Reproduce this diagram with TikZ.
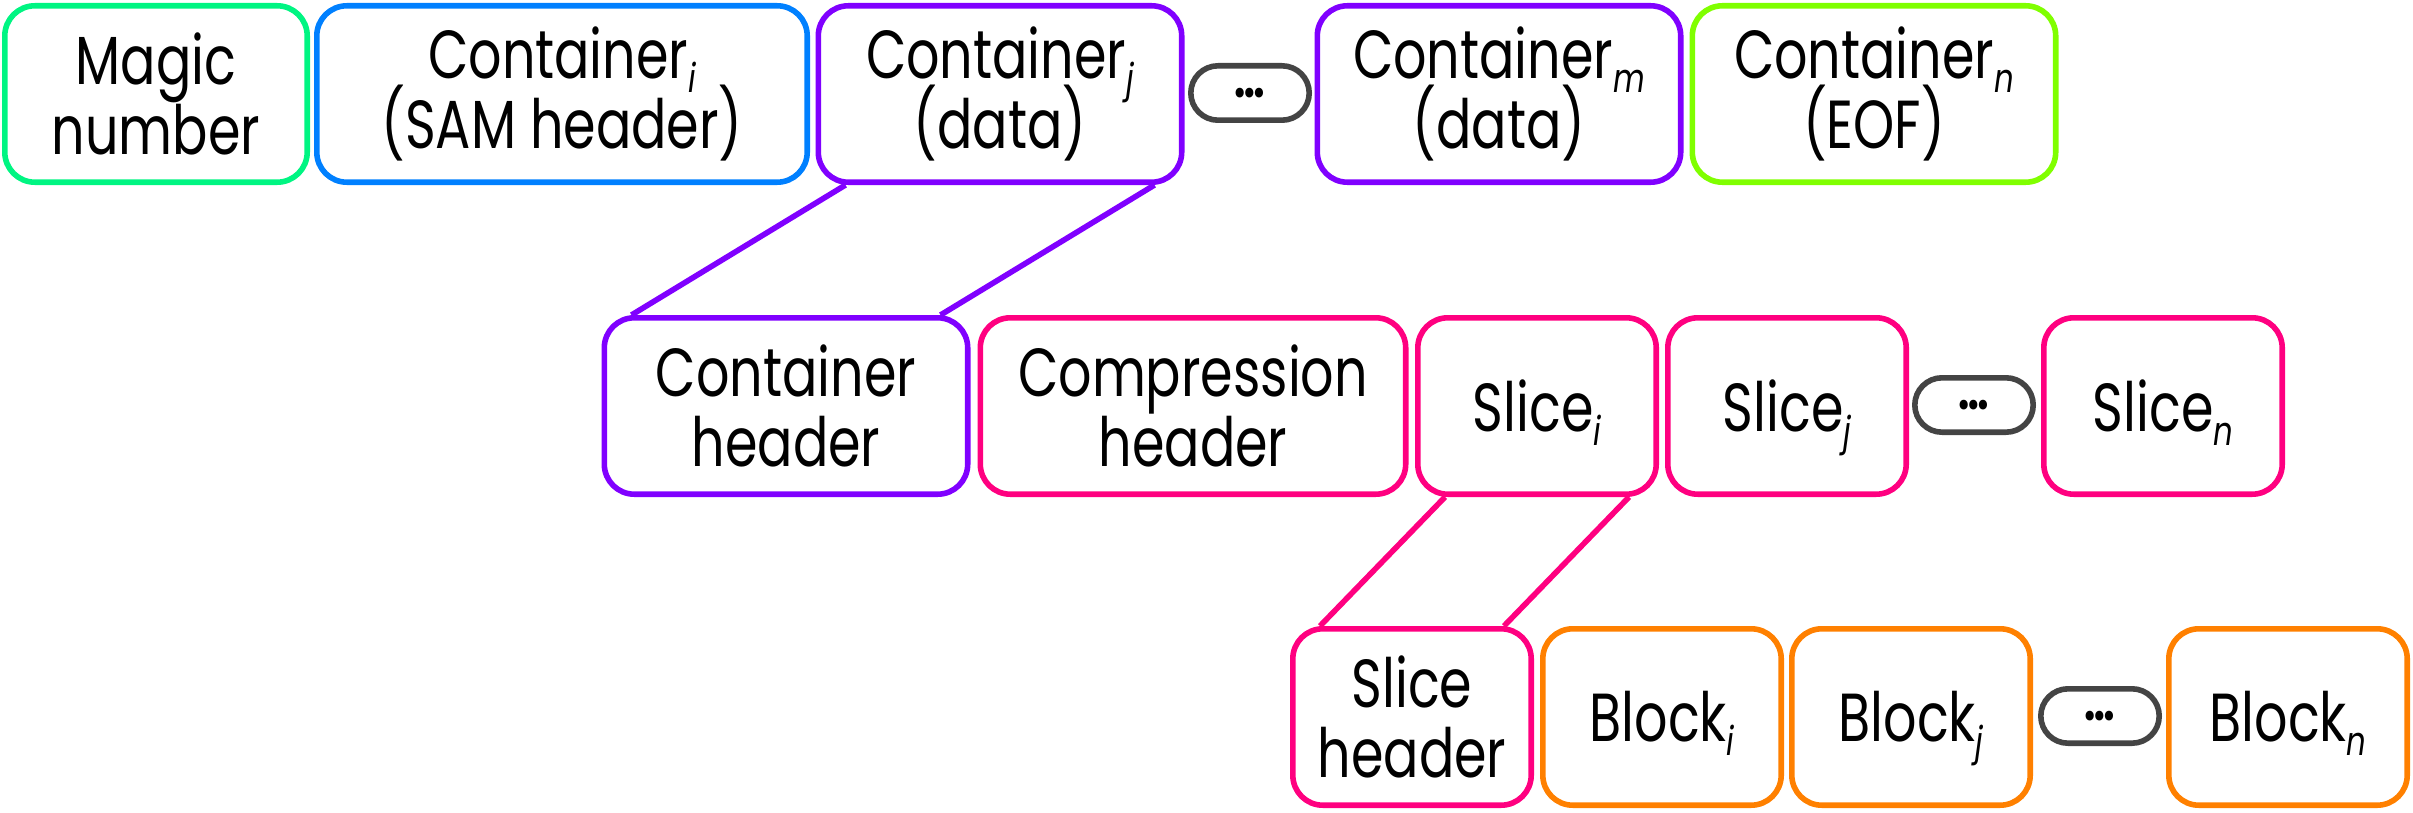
\documentclass[tikz,border=0pt]{standalone}
\usepackage{fontspec}
\setmainfont[FakeStretch=0.77]{Poppins}
\usetikzlibrary{calc}
\definecolor{cgreen}{HTML}{00F582}
\definecolor{cblue}{HTML}{0080FF}
\definecolor{cpurple}{HTML}{8000FF}
\definecolor{clime}{HTML}{80FF00}
\definecolor{cpink}{HTML}{FF0080}
\definecolor{corange}{HTML}{FF8000}
\definecolor{cgray}{HTML}{444444}
\newcommand\sub[1]{\raisebox{-0.2em}[0pt][0pt]{\fontsize{20}{20}\selectfont\itshape #1}}
\begin{document}
\begin{tikzpicture}[x=0.5pt,y=-0.5pt,
  box/.style={draw, line width=2.8pt, rounded corners=15pt, align=center,
    minimum height=88.2pt, inner sep=0pt, fill=white,
    font=\fontsize{34}{35}\selectfont},
  wS/.style={minimum width=119.2pt},
  wM/.style={minimum width=181.7pt},
  wMagic/.style={minimum width=151.2pt},
  wComp/.style={minimum width=212.7pt},
  wSam/.style={minimum width=245.2pt},
  dotsbox/.style={draw=cgray, line width=2.8pt, rounded corners=13.6pt,
    minimum width=59.2pt, minimum height=27.2pt, inner sep=0pt, fill=white,
    font=\fontsize{26}{26}\selectfont\bfseries},
  conn/.style={line width=2.8pt}
]
\useasboundingbox (0,0) rectangle (2413,813);
% row 1
\node[box,wMagic,draw=cgreen] (magic) at (156,94) {Magic\\number};
\node[box,wSam,draw=cblue] (ci) at (562,94) {Container\sub{i}\\(SAM header)};
\node[box,wM,draw=cpurple] (cj) at (1000,94) {Container\sub{j}\\(data)};
\node[dotsbox] (d1) at (1250,93) {…};
\node[box,wM,draw=cpurple] (cm) at (1499,94) {Container\sub{m}\\(data)};
\node[box,wM,draw=clime] (cn) at (1874,94) {Container\sub{n}\\(EOF)};
% row 2
\node[box,wM,draw=cpurple] (ch) at (786,406) {Container\\header};
\node[box,wComp,draw=cpink] (comp) at (1193,406) {Compression\\header};
\node[box,wS,draw=cpink] (si) at (1537,406) {Slice\sub{i}};
\node[box,wS,draw=cpink] (sj) at (1787,406) {Slice\sub{j}};
\node[dotsbox] (d2) at (1974,405) {…};
\node[box,wS,draw=cpink] (sn) at (2163,406) {Slice\sub{n}};
% row 3
\node[box,wS,draw=cpink] (sh) at (1412,717) {Slice\\header};
\node[box,wS,draw=corange] (bi) at (1662,717) {Block\sub{i}};
\node[box,wS,draw=corange] (bj) at (1911,717) {Block\sub{j}};
\node[dotsbox] (d3) at (2100,716) {…};
\node[box,wS,draw=corange] (bn) at (2288,717) {Block\sub{n}};
% connectors
\draw[conn,cpurple] ($(cj.south west)+(30,0)$) -- ($(ch.north west)+(30,0)$);
\draw[conn,cpurple] ($(cj.south east)+(-30,0)$) -- ($(ch.north east)+(-30,0)$);
\draw[conn,cpink] ($(si.south west)+(30,0)$) -- ($(sh.north west)+(30,0)$);
\draw[conn,cpink] ($(si.south east)+(-30,0)$) -- ($(sh.north east)+(-30,0)$);
\end{tikzpicture}
\end{document}
